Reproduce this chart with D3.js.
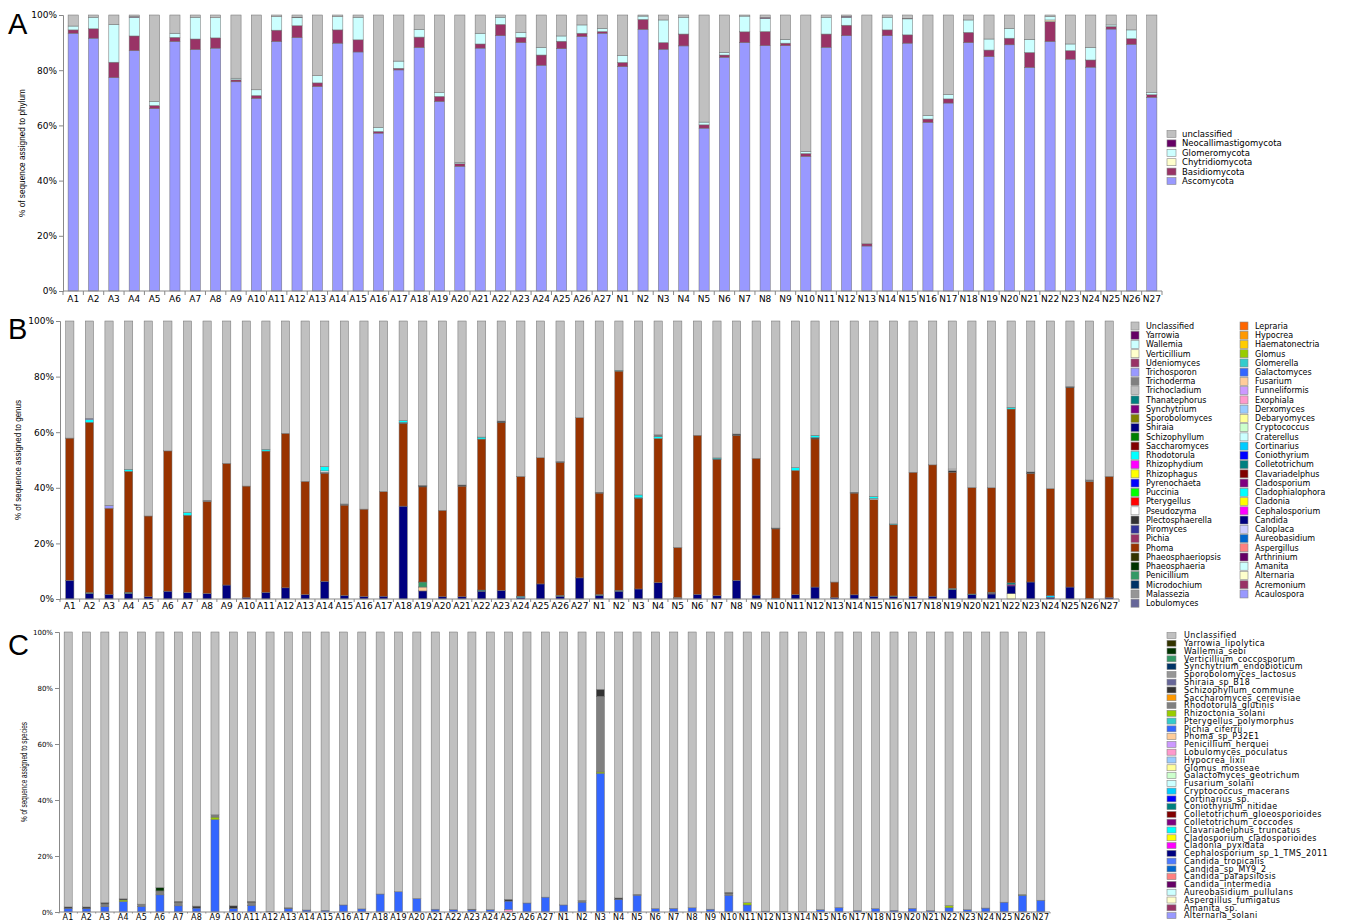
<!DOCTYPE html>
<html>
<head>
<meta charset="utf-8">
<script src="https://cdn.jsdelivr.net/npm/d3@7"></script>
<style>
  body { margin: 0; background: #fff; }
  svg { display: block; }
  text { font-family: "DejaVu Sans", Verdana, sans-serif; fill: #000; }
</style>
</head>
<body>
<svg id="chart" width="1360" height="923"></svg>
<script>
// sample names (x categories)
const samples = ['A1','A2','A3','A4','A5','A6','A7','A8','A9','A10','A11','A12','A13','A14','A15','A16','A17','A18','A19','A20','A21','A22','A23','A24','A25','A26','A27',
  'N1','N2','N3','N4','N5','N6','N7','N8','N9','N10','N11','N12','N13','N14','N15','N16','N17','N18','N19','N20','N21','N22','N23','N24','N25','N26','N27'];

const yTicks = [0, 0.2, 0.4, 0.6, 0.8, 1];

// ---------- A: phylum ----------
const phyla = ['unclassified','Neocallimastigomycota','Glomeromycota','Chytridiomycota','Basidiomycota','Ascomycota'];
const phylaColors = ['#c0c0c0','#660066','#ccffff','#ffffcc','#993366','#9999ff'];

const ascomycota = [93.4,91.6,77.3,87.1,66.1,90.4,87.5,88.0,75.8,69.8,90.4,91.8,74.1,89.8,86.6,57.2,80.1,88.2,68.7,45.2,88.0,92.5,90.0,81.8,87.8,92.2,93.4,
  81.3,94.8,87.6,88.8,59.0,84.7,90.0,88.9,88.9,48.8,88.3,92.5,16.3,92.5,89.8,61.1,68.1,90.0,84.9,89.2,81.0,90.4,84.0,81.1,94.9,89.4,70.2];
const basidiomycota = [1.2,3.4,5.6,5.3,1.1,1.5,3.8,3.7,0.7,1.0,4.1,4.3,1.3,4.8,4.4,0.6,0.6,3.8,1.8,0.9,1.5,4.1,1.9,3.7,2.7,1.2,0.6,
  1.5,3.6,2.4,4.3,1.2,0.8,3.9,5.1,0.9,1.0,4.8,3.8,0.8,2.1,3.0,1.2,1.5,3.7,2.4,2.4,5.4,7.2,3.1,2.6,0.9,2.0,0.9];
const chytridiomycota = [0,0,0,0,0,0,0,0,0,0,0,0,0,0,0,0,0,0,0,0,0,0,0,0,0,0,0,
  0,0,0,0,0,0,0,0,0,0,0,0,0,0,0,0,0,0,0,0,0,0.6,0,0,0,0,0];
const glomeromycota = [1.4,4.2,13.7,6.8,1.5,1.5,7.9,7.3,0.6,2.1,4.9,2.9,2.6,4.8,8.2,1.5,2.6,2.8,1.4,0.5,3.9,2.6,1.8,2.8,1.9,3.0,1.2,
  2.5,1.2,8.2,6.1,1.0,1.0,5.7,4.8,1.4,0.8,6.1,2.9,0,4.6,5.8,1.3,1.6,4.5,4.0,3.6,4.8,1.2,2.4,4.6,0.6,3.2,0.8];
const neocallimastigomycota = [0,0,0,0.2,0,0,0,0,0,0,0,0.2,0,0,0,0,0,0,0,0,0,0,0,0,0,0,0,
  0,0,0,0,0,0,0,0.3,0,0,0,0.3,0,0,0.2,0,0,0,0,0,0,0,0,0,0,0,0];
const unclassifiedA = [4.0,0.8,3.4,0.6,31.3,6.6,0.8,1.0,22.9,27.1,0.6,0.8,22.0,0.6,0.8,40.7,16.7,5.2,28.1,53.4,6.6,0.8,6.3,11.7,7.6,3.6,4.8,
  14.7,0.4,1.8,0.8,38.8,13.5,0.4,0.9,8.8,49.4,0.8,0.5,82.9,0.8,1.2,36.4,28.8,1.8,8.7,4.8,8.8,0.6,10.5,11.7,3.6,5.4,28.1];

// ---------- B: genus ----------
const genera = ['Unclassified','Yarrowia','Wallemia','Verticillium','Udeniomyces','Trichosporon','Trichoderma','Trichocladium','Thanatephorus','Synchytrium',
  'Sporobolomyces','Shiraia','Schizophyllum','Saccharomyces','Rhodotorula','Rhizophydium','Rhizophagus','Pyrenochaeta','Puccinia','Pterygellus',
  'Pseudozyma','Plectosphaerella','Piromyces','Pichia','Phoma','Phaeosphaeriopsis','Phaeosphaeria','Penicillium','Microdochium','Malassezia','Lobulomyces',
  'Lepraria','Hypocrea','Haematonectria','Glomus','Glomerella','Galactomyces','Fusarium','Funneliformis','Exophiala','Derxomyces',
  'Debaryomyces','Cryptococcus','Craterellus','Cortinarius','Coniothyrium','Colletotrichum','Clavariadelphus','Cladosporium','Cladophialophora','Cladonia',
  'Cephalosporium','Candida','Caloplaca','Aureobasidium','Aspergillus','Arthrinium','Amanita','Alternaria','Acremonium','Acaulospora'];
const generaColors = ['#c0c0c0','#660066','#ccffff','#ffffcc','#993366','#9999ff','#808080','#c0c0c0','#008080','#800080',
  '#808000','#000080','#008000','#800000','#00ffff','#ff00ff','#ffff00','#0000ff','#00ff00','#ff0000',
  '#ffffff','#333333','#333399','#993366','#993300','#333300','#003300','#339966','#003366','#969696','#666699',
  '#ff6600','#ff9900','#ffcc00','#99cc00','#33cccc','#3366ff','#ffcc99','#cc99ff','#ff99cc','#99ccff',
  '#ffff99','#ccffcc','#ccffff','#00ccff','#0000ff','#008080','#800000','#800080','#00ffff','#ffff00',
  '#ff00ff','#000080','#ccccff','#0066cc','#ff8080','#660066','#ccffff','#ffffcc','#993366','#9999ff'];

const candidaB = [6.7,2.0,1.7,2.0,0.8,2.8,2.3,2.0,5.0,0.5,2.4,4.0,1.6,6.3,1.3,0.9,1.0,33.3,2.9,0.8,0.8,2.8,3.1,0.5,5.4,1.0,7.6,
  1.3,2.8,3.6,5.9,0.3,1.7,1.2,6.7,1.4,0.3,1.6,4.3,0.5,1.5,1.0,0.8,1.0,1.0,3.4,1.6,1.8,2.8,6.1,0.6,4.3,0.2,0.5];
const phomaB = [51.0,61.2,30.8,43.4,28.9,50.2,27.7,33.0,43.6,40.0,50.6,55.3,40.6,38.6,32.2,31.4,37.5,29.7,34.2,31.1,39.8,54.1,60.3,43.1,45.2,48.0,57.6,
  36.6,78.8,32.5,51.9,17.9,57.2,48.9,51.9,49.2,25.0,44.6,53.3,5.6,36.6,34.7,25.6,44.6,47.1,41.6,38.3,37.6,62.4,39.0,38.5,71.7,42.0,43.6];
const unclassifiedB = [42.0,35.0,66.0,53.2,69.8,46.5,68.5,64.3,51.0,59.2,46.0,40.2,57.5,52.0,65.3,67.6,61.1,35.7,59.1,68.1,59.0,41.6,36.0,55.9,49.0,50.7,34.8,
  61.8,17.7,62.5,41.0,81.2,41.1,49.2,40.5,49.4,74.7,52.7,41.1,93.9,61.6,63.0,73.0,54.4,51.6,53.0,59.9,60.0,31.0,54.2,60.3,23.6,57.2,55.9];
// thin genera, only where visible
const rhodotorulaB = {A2:1.0,A4:0.7,A7:1.0,A11:0.6,A14:1.5,A18:0.7,A22:0.7,N2:0.3,N3:1.0,N4:0.7,N7:0.3,N11:1.0,N12:0.8,N15:0.7,N16:0.3,N22:0.6};
const plectosphaerellaB = {A14:0.3,A18:0.3,A19:0.5,A21:0.4,A23:0.6,A26:0.3,N1:0.3,N3:0.3,N7:0.3,N8:0.5,N10:0.3,N12:0.5,N14:0.3,N19:0.6,N23:0.5,N25:0.4};
const trichosporonB = {A2:0.4,A3:1.0};
const pseudozymaB = {A14:0.5,N15:0.4,N19:0.5};
const trichodermaB = {A8:0.4,A15:0.4,N4:0.6,N26:0.6};
const colletotrichumB = {A2:0.3,A4:0.4,A22:0.4,A26:0.3,N1:0.3,N2:0.3,N16:0.3,N19:0.4,N20:0.2,N21:0.3,N22:0.6};
const cortinariusB = {A24:0.5,N24:0.6};
const cladosporiumB = {N21:0.3,N22:0.5};
const penicilliumB = {A19:1.8};
const fusariumB = {A19:1.4,N5:0.3};
const alternariaB = {N22:1.9};

// ---------- C: species ----------
const species = ['Unclassified','Yarrowia_lipolytica','Wallemia_sebi','Verticillium_coccosporum','Synchytrium_endobioticum','Sporobolomyces_lactosus',
  'Shiraia_sp_B18','Schizophyllum_commune','Saccharomyces_cerevisiae','Rhodotorula_glutinis','Rhizoctonia_solani','Pterygellus_polymorphus',
  'Pichia_ciferrii','Phoma_sp_P32E1','Penicillium_herquei','Lobulomyces_poculatus','Hypocrea_lixii','Glomus_mosseae','Galactomyces_geotrichum',
  'Fusarium_solani','Cryptococcus_macerans','Cortinarius_sp.','Coniothyrium_nitidae','Colletotrichum_gloeosporioides','Colletotrichum_coccodes',
  'Clavariadelphus_truncatus','Cladosporium_cladosporioides','Cladonia_pyxidata','Cephalosporium_sp_1_TMS_2011','Candida_tropicalis',
  'Candida_sp_MY9_2','Candida_parapsilosis','Candida_intermedia','Aureobasidium_pullulans','Aspergillus_fumigatus','Amanita_sp.','Alternaria_solani'];
const speciesColors = ['#c0c0c0','#333300','#003300','#339966','#003366','#969696',
  '#666699','#333333','#ff9900','#808080','#99cc00','#33cccc',
  '#3366ff','#ffcc99','#cc99ff','#ff99cc','#99ccff','#ffff99','#ccffcc',
  '#ccffff','#00ccff','#0000ff','#008080','#800000','#800080',
  '#00ffff','#ffff00','#ff00ff','#000080','#4d79ff',
  '#0066cc','#ff8080','#660066','#ccffff','#ffffcc','#993366','#9999ff'];

const pichiaC = [1.3,1.2,1.9,3.7,2.0,6.1,2.2,1.4,33.0,1.3,2.4,0.2,1.3,0.7,0.6,2.5,1.1,6.4,7.2,4.8,1.0,0.8,0.8,0.8,3.0,3.2,5.3,
  2.5,3.5,49.5,4.5,6.0,1.2,1.3,1.5,1.0,6.0,2.5,0.3,0.2,0.2,0.8,1.6,0.5,1.2,0.6,1.3,0.5,1.5,0.8,1.4,3.5,6.0,4.2];
const unclassifiedC = [97.8,98.2,96.7,95.3,97.2,90.9,96.2,97.9,65.3,97.8,96.2,99.6,98.5,99.2,99.3,97.2,98.8,93.3,92.5,94.9,98.9,99.1,99.0,99.1,95.5,96.5,94.6,
  97.0,95.5,20.5,95.0,93.7,98.6,98.5,98.2,98.8,93.0,96.5,99.6,99.7,99.7,99.0,98.2,99.4,98.6,99.3,98.5,99.4,97.7,99.0,98.4,96.3,93.8,95.6];
const rhodotorulaC = {A3:1.0,A5:0.8,A6:1.4,A7:1.2,A11:1.0,A9:0.8,N3:27.0,N2:0.6,N5:0.3,N10:0.6};
const schizophyllumC = {A1:0.5,A2:0.6,A3:0.4,A4:0.4,A7:0.4,A8:0.7,A10:0.9,A11:0.4,A13:0.2,A23:0.2,A25:0.6,N3:2.5,N4:0.5,N10:0.4};
const rhizoctoniaC = {A4:0.6,A9:0.9,N3:0.5,N11:0.8,N22:0.8,N26:0.2};
const wallemiaC = {A6:1.2};
const lobulomycesC = {A25:0.9};

// ---------- drawing ----------
const svg = d3.select('#chart');

function toRows(parts, keys) {
  // parts: {name: full array or sparse {sample: value}}; missing keys become 0
  return samples.map((s, i) => {
    const row = { sample: s };
    keys.forEach(k => {
      const v = parts[k];
      row[k] = !v ? 0 : Array.isArray(v) ? v[i] : (v[s] || 0);
    });
    return row;
  });
}

function drawPanel(cfg) {
  const g = svg.append('g');
  const x = d3.scaleBand().domain(samples).range([cfg.x0, cfg.x1]).paddingInner(cfg.pad).paddingOuter(cfg.pad / 2);
  const y = d3.scaleLinear().domain([0, 1]).range([cfg.bottom, cfg.top]);

  // bottom -> top stacking is the reverse of the legend order
  const keys = cfg.names.slice().reverse();
  const colorOf = d3.scaleOrdinal().domain(cfg.names).range(cfg.colors);
  const stacked = d3.stack().keys(keys).offset(d3.stackOffsetExpand)(toRows(cfg.parts, keys));

  g.selectAll('g.layer').data(stacked).join('g')
    .attr('class', 'layer')
    .attr('fill', d => colorOf(d.key))
    .selectAll('rect').data(d => d.filter(p => p[1] - p[0] > 0)).join('rect')
    .attr('x', d => x(d.data.sample))
    .attr('width', x.bandwidth())
    .attr('y', d => y(d[1]))
    .attr('height', d => y(d[0]) - y(d[1]))
    .attr('stroke', '#6e6e6e')
    .attr('stroke-width', 0.5);

  // y axis
  const yAxis = g.append('g').attr('transform', `translate(${cfg.x0},0)`)
    .call(d3.axisLeft(y).tickValues(yTicks).tickFormat(d3.format('.0%')).tickSize(4).tickPadding(2));
  yAxis.select('.domain').attr('stroke', '#888');
  yAxis.selectAll('.tick line').attr('stroke', '#888');
  yAxis.selectAll('.tick text').style('font-size', cfg.yFont + 'px');

  // x axis: ticks sit between categories
  const xg = g.append('g').attr('transform', `translate(0,${cfg.bottom})`);
  xg.append('line').attr('x1', cfg.x0).attr('x2', cfg.x1).attr('stroke', '#888');
  xg.selectAll('line.sep').data(d3.range(samples.length + 1)).join('line')
    .attr('class', 'sep')
    .attr('x1', i => cfg.x0 + i * x.step()).attr('x2', i => cfg.x0 + i * x.step())
    .attr('y1', 0).attr('y2', cfg.xTick).attr('stroke', '#888');
  xg.selectAll('text').data(samples).join('text')
    .attr('x', d => x(d) + x.bandwidth() / 2)
    .attr('y', cfg.labelY - cfg.bottom)
    .attr('text-anchor', 'middle')
    .style('font-size', cfg.xFont + 'px')
    .style('letter-spacing', cfg.xSpacing || 0)
    .text(d => d);

  // y title
  g.append('text')
    .attr('transform', `translate(${cfg.titleX},${(cfg.top + cfg.bottom) / 2}) rotate(-90)`)
    .attr('text-anchor', 'middle')
    .attr('textLength', cfg.titleLen)
    .attr('lengthAdjust', 'spacingAndGlyphs')
    .style('font-family', '"Liberation Sans", Arial, sans-serif')
    .style('font-size', '8.5px')
    .text(cfg.title);

  // panel letter
  g.append('text').attr('x', cfg.letterX).attr('y', cfg.letterY)
    .style('font-family', '"Liberation Sans", Arial, sans-serif')
    .style('font-size', '29px')
    .text(cfg.letter);

  // legend, possibly in columns
  const lg = g.append('g');
  cfg.names.forEach((n, i) => {
    const col = Math.floor(i / cfg.legend.perCol);
    const row = i % cfg.legend.perCol;
    const lx = cfg.legend.x + col * cfg.legend.colW;
    const ly = cfg.legend.y + row * cfg.legend.dy;
    lg.append('rect').attr('x', lx).attr('y', ly - cfg.legend.h / 2)
      .attr('width', cfg.legend.w).attr('height', cfg.legend.h)
      .attr('fill', cfg.colors[i]).attr('stroke', '#888').attr('stroke-width', 0.6);
    lg.append('text').attr('x', lx + cfg.legend.tx).attr('y', ly)
      .attr('dy', '0.35em')
      .style('font-size', cfg.legend.font + 'px')
      .style('letter-spacing', cfg.legend.spacing || 0)
      .text(n);
  });
}

drawPanel({
  names: phyla, colors: phylaColors,
  parts: { 'Ascomycota': ascomycota, 'Basidiomycota': basidiomycota, 'Chytridiomycota': chytridiomycota,
    'Glomeromycota': glomeromycota, 'Neocallimastigomycota': neocallimastigomycota, 'unclassified': unclassifiedA },
  x0: 63, x1: 1162, pad: 0.5, top: 15, bottom: 291,
  yFont: 9, xFont: 9, labelY: 302, xTick: 4,
  title: '% of sequence assigned to phylum', titleX: 25, titleLen: 128,
  letter: 'A', letterX: 8, letterY: 34,
  legend: { x: 1167, y: 134, dy: 9.4, perCol: 6, colW: 0, w: 9, h: 7, tx: 15, font: 8.5 }
});

drawPanel({
  names: genera, colors: generaColors,
  parts: { 'Candida': candidaB, 'Phoma': phomaB, 'Unclassified': unclassifiedB, 'Rhodotorula': rhodotorulaB,
    'Plectosphaerella': plectosphaerellaB, 'Trichosporon': trichosporonB, 'Pseudozyma': pseudozymaB, 'Trichoderma': trichodermaB,
    'Colletotrichum': colletotrichumB, 'Cortinarius': cortinariusB, 'Cladosporium': cladosporiumB, 'Penicillium': penicilliumB,
    'Fusarium': fusariumB, 'Alternaria': alternariaB },
  x0: 60, x1: 1119, pad: 0.58, top: 321, bottom: 599,
  yFont: 9, xFont: 9, labelY: 609, xTick: 3,
  title: '% of sequence assigned to genus', titleX: 21, titleLen: 120,
  letter: 'B', letterX: 8, letterY: 339,
  legend: { x: 1131, y: 326, dy: 9.24, perCol: 31, colW: 109, w: 8, h: 8, tx: 15, font: 8 }
});

drawPanel({
  names: species, colors: speciesColors,
  parts: { 'Pichia_ciferrii': pichiaC, 'Unclassified': unclassifiedC, 'Rhodotorula_glutinis': rhodotorulaC,
    'Schizophyllum_commune': schizophyllumC, 'Rhizoctonia_solani': rhizoctoniaC, 'Wallemia_sebi': wallemiaC,
    'Lobulomyces_poculatus': lobulomycesC },
  x0: 59, x1: 1050, pad: 0.56, top: 632, bottom: 912,
  yFont: 7, xFont: 8, labelY: 920, xTick: 1.5, xSpacing: '0.3px',
  title: '% of sequence assigned to species', titleX: 27, titleLen: 100,
  letter: 'C', letterX: 8, letterY: 655,
  legend: { x: 1167, y: 635.5, dy: 7.78, perCol: 37, colW: 0, w: 9, h: 6, tx: 17, font: 8, spacing: '0.4px' }
});
</script>
</body>
</html>
